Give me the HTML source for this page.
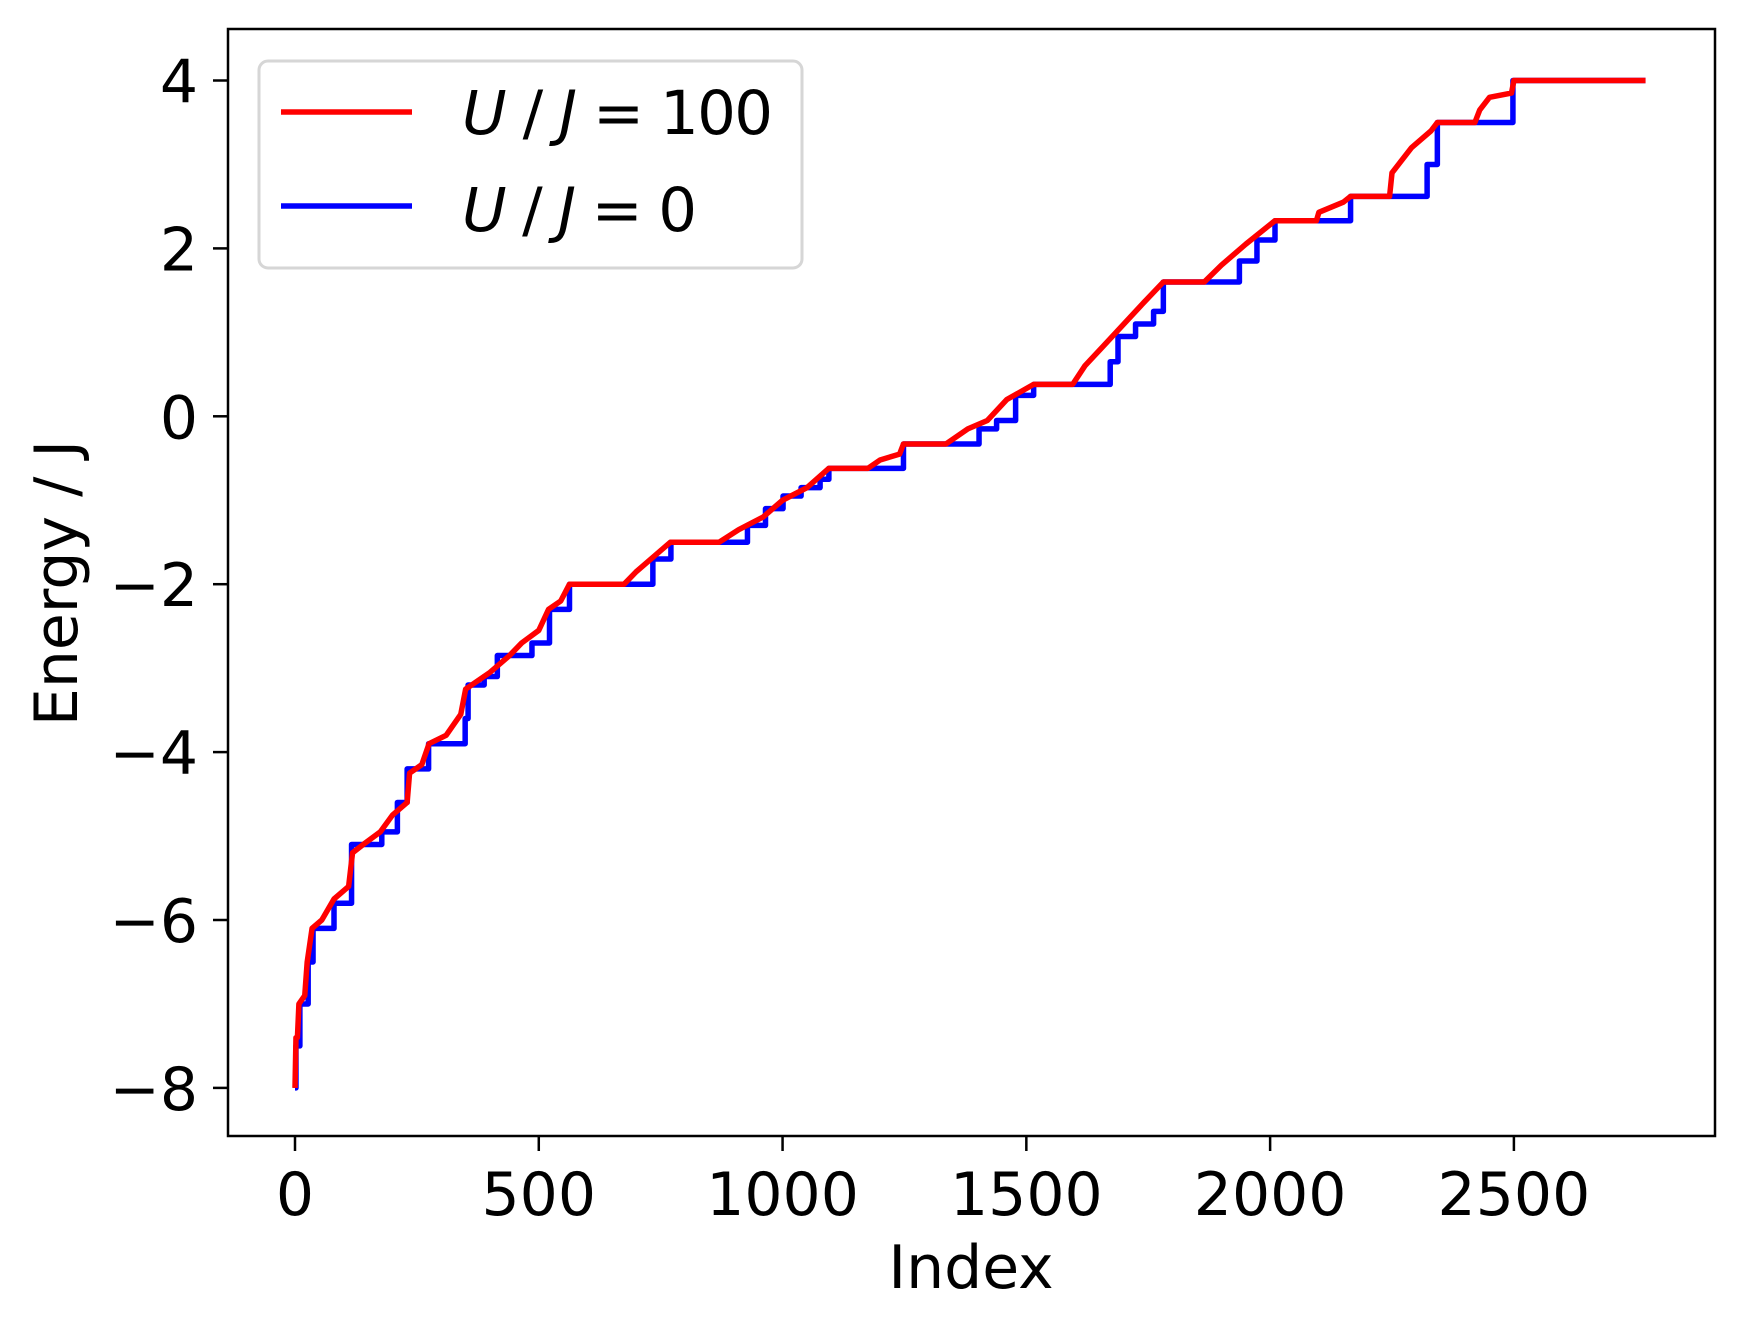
<!DOCTYPE html>
<html><head><meta charset="utf-8"><style>
html,body{margin:0;padding:0;background:#fff;}
svg{display:block;font-family:"DejaVu Sans","Liberation Sans",sans-serif;}
</style></head><body>
<svg id="chart" width="1745" height="1334" viewBox="0 0 1745 1334" xmlns="http://www.w3.org/2000/svg">
<defs><clipPath id="plotclip"><rect x="228" y="29" width="1487" height="1107"/></clipPath></defs>
<rect x="0" y="0" width="1745" height="1334" fill="#fff"/>
<g id="series" clip-path="url(#plotclip)"></g>
<rect x="228" y="29" width="1487" height="1107" fill="none" stroke="#000" stroke-width="2.5"/>
<g id="xticks"></g>
<g id="yticks"></g>
<text x="971" y="1288" font-size="60" text-anchor="middle">Index</text>
<text x="0" y="0" font-size="60" text-anchor="middle" transform="translate(77,583) rotate(-90)">Energy / J</text>
<g>
<rect x="259" y="61" width="543" height="207" rx="9" fill="#fff" fill-opacity="0.8" stroke="#d6d6d6" stroke-width="3"/>
<line x1="281" y1="112" x2="412" y2="112" stroke="#ff0000" stroke-width="5.5"/>
<text x="462" y="134" font-size="61" textLength="311" lengthAdjust="spacing"><tspan font-style="italic">U</tspan> / <tspan font-style="italic">J</tspan> = 100</text>
<line x1="281" y1="206" x2="412" y2="206" stroke="#0000ff" stroke-width="5.5"/>
<text x="462" y="231" font-size="61" textLength="235" lengthAdjust="spacing"><tspan font-style="italic">U</tspan> / <tspan font-style="italic">J</tspan> = 0</text>
</g>
</svg>
<script>
const xTicks = [0, 500, 1000, 1500, 2000, 2500];
const yTicks = [-8, -6, -4, -2, 0, 2, 4];
// U/J = 0 : step levels (index where level starts, energy)
const blueIdx = [0, 2, 10, 27, 37, 80, 116, 178, 210, 230, 274, 349, 355, 388, 415, 486, 522, 563, 734, 771, 928, 965, 1001, 1038, 1077, 1095, 1248, 1403, 1439, 1478, 1515, 1672, 1688, 1724, 1761, 1781, 1937, 1973, 2010, 2165, 2322, 2343, 2498, 2770];
const blueE = [-8, -7.5, -7, -6.5, -6.1, -5.8, -5.1, -4.95, -4.6, -4.2, -3.9, -3.6, -3.2, -3.1, -2.85, -2.7, -2.3, -2.0, -1.7, -1.5, -1.3, -1.1, -0.95, -0.85, -0.75, -0.62, -0.33, -0.15, -0.05, 0.25, 0.38, 0.65, 0.95, 1.1, 1.25, 1.6, 1.85, 2.1, 2.33, 2.62, 3.0, 3.5, 4.0, 4.0];
// U/J = 100
const redIdx = [0, 2, 5, 8, 20, 25, 35, 55, 80, 110, 118, 140, 175, 200, 230, 235, 260, 275, 310, 340, 350, 400, 440, 465, 500, 520, 545, 563, 675, 700, 740, 770, 870, 910, 960, 1000, 1050, 1095, 1175, 1200, 1240, 1248, 1335, 1380, 1420, 1460, 1515, 1595, 1620, 1660, 1700, 1740, 1781, 1865, 1900, 1950, 2010, 2095, 2100, 2150, 2165, 2245, 2250, 2290, 2330, 2343, 2420, 2430, 2450, 2495, 2500, 2770];
const redE = [-8, -7.4, -7.4, -7, -6.9, -6.5, -6.1, -6.0, -5.75, -5.6, -5.2, -5.1, -4.95, -4.75, -4.6, -4.25, -4.15, -3.9, -3.8, -3.55, -3.25, -3.05, -2.85, -2.7, -2.55, -2.3, -2.2, -2.0, -2.0, -1.85, -1.65, -1.5, -1.5, -1.35, -1.2, -1.0, -0.85, -0.62, -0.62, -0.52, -0.45, -0.33, -0.33, -0.15, -0.05, 0.2, 0.38, 0.38, 0.6, 0.85, 1.1, 1.35, 1.6, 1.6, 1.8, 2.05, 2.33, 2.33, 2.43, 2.55, 2.62, 2.62, 2.9, 3.2, 3.4, 3.5, 3.5, 3.65, 3.8, 3.85, 4.0, 4.0];

const NS = 'http://www.w3.org/2000/svg';
function xs(v){ return 295 + v * (243.78/500); }
function ys(v){ return 80.5 + (4 - v) * 83.95; }

const series = document.getElementById('series');
let d = '';
for (let i = 0; i < blueIdx.length; i++) {
  const x = xs(blueIdx[i]), y = ys(blueE[i]);
  if (i === 0) d += 'M' + x + ' ' + y;
  else d += ' H' + x + ' V' + y;
}
const bp = document.createElementNS(NS, 'path');
bp.setAttribute('d', d);
bp.setAttribute('fill', 'none');
bp.setAttribute('stroke', '#0000ff');
bp.setAttribute('stroke-width', '5.5');
bp.setAttribute('stroke-linejoin', 'round');


series.appendChild(bp);

let d2 = '';
for (let i = 0; i < redIdx.length; i++) {
  d2 += (i === 0 ? 'M' : ' L') + xs(redIdx[i]) + ' ' + ys(redE[i]);
}
const rp = document.createElementNS(NS, 'path');
rp.setAttribute('d', d2);
rp.setAttribute('fill', 'none');
rp.setAttribute('stroke', '#ff0000');
rp.setAttribute('stroke-width', '5.5');
rp.setAttribute('stroke-linejoin', 'round');


series.appendChild(rp);

const xg = document.getElementById('xticks');
xTicks.forEach(function(t){
  const x = xs(t);
  const l = document.createElementNS(NS, 'line');
  l.setAttribute('x1', x); l.setAttribute('x2', x);
  l.setAttribute('y1', 1136); l.setAttribute('y2', 1151);
  l.setAttribute('stroke', '#000'); l.setAttribute('stroke-width', '2.5');
  
  
  xg.appendChild(l);
  const tx = document.createElementNS(NS, 'text');
  tx.setAttribute('x', x); tx.setAttribute('y', 1215);
  tx.setAttribute('font-size', '60'); tx.setAttribute('text-anchor', 'middle');
  tx.textContent = String(t);
  
  
  xg.appendChild(tx);
});
const yg = document.getElementById('yticks');
yTicks.forEach(function(t){
  const y = ys(t);
  const l = document.createElementNS(NS, 'line');
  l.setAttribute('x1', 213); l.setAttribute('x2', 228);
  l.setAttribute('y1', y); l.setAttribute('y2', y);
  l.setAttribute('stroke', '#000'); l.setAttribute('stroke-width', '2.5');
  
  
  yg.appendChild(l);
  const tx = document.createElementNS(NS, 'text');
  tx.setAttribute('x', 198); tx.setAttribute('y', y + 22);
  tx.setAttribute('font-size', '60'); tx.setAttribute('text-anchor', 'end');
  tx.textContent = (t < 0 ? '\u2212' + Math.abs(t) : String(t));
  
  
  yg.appendChild(tx);
});
</script>
</body></html>
